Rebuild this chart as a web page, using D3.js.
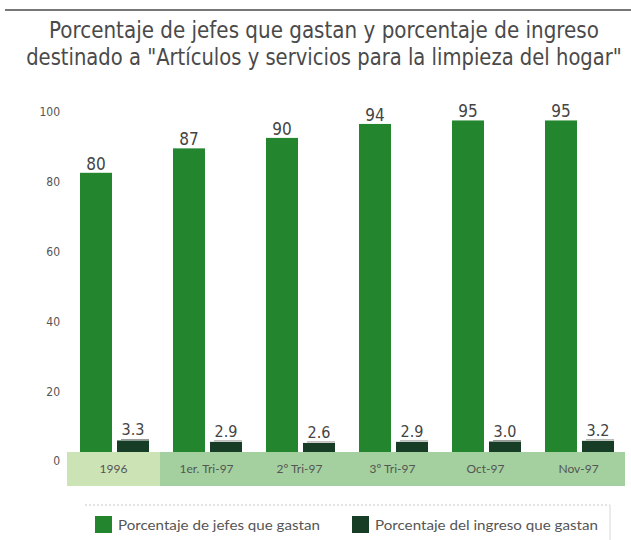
<!DOCTYPE html>
<html>
<head>
<meta charset="utf-8">
<script src="https://cdn.jsdelivr.net/npm/d3@7"></script>
<style>
  body { margin:0; background:#fff; }
  #chart-vis { width:631px; height:540px; }
</style>
</head>
<body>
<div id="chart-vis"></div>
<script>
var categories = ["1996", "1er. Tri-97", "2º Tri-97", "3º Tri-97", "Oct-97", "Nov-97"];
var jefes = [80, 87, 90, 94, 95, 95];
var ingreso = [3.3, 2.9, 2.6, 2.9, 3.0, 3.2];
var seriesNames = ["Porcentaje de jefes que gastan", "Porcentaje del ingreso que gastan"];
var yTicks = [0, 20, 40, 60, 80, 100];
var titleLines = ["Porcentaje de jefes que gastan y porcentaje de ingreso",
                  "destinado a \"Artículos y servicios para la limpieza del hogar\""];

BarVis = function(_parentElement) {
  this.settings = {
    parentElement: _parentElement,
    plot: {left:67, right:625, top:103, bottom:452},
    band: {height:34},
    colors: ["#23862f", "#183d27"],
    bandColors: ["#cce3b6", "#a3d09e"],
    text: "#4a4a4a"
  };
  this.initVis();
}

// squeeze a text horizontally so it spans `target` px, centred on cx
function squeeze(sel, cx, target) {
  sel.each(function(d, i) {
    var len = this.getComputedTextLength();
    var k = Math.min(1, target[i] / len);
    d3.select(this).attr("transform", "translate(" + cx + ",0) scale(" + k + ",1)");
  });
}

BarVis.prototype.initVis = function() {
  var vis = this;
  var s = vis.settings;

  vis.svg = d3.select(s.parentElement).append("svg")
      .attr("width", 631)
      .attr("height", 540);

  // top rule
  vis.svg.append("line").attr("x1", 5).attr("x2", 631).attr("y1", 10).attr("y2", 10)
      .attr("stroke", "#777").attr("stroke-width", 2);

  // title
  var titles = vis.svg.selectAll(".title").data(titleLines).enter()
      .append("text").attr("class", "title")
      .attr("x", 0).attr("y", function(d, i){ return 38 + i*27; })
      .attr("text-anchor", "middle")
      .style("font-family", "'Liberation Sans Narrow', 'DejaVu Sans Condensed', sans-serif")
      .style("font-size", "23px").style("fill", s.text)
      .text(function(d){ return d; });
  squeeze(titles, 324, [550, 596]);

  vis.x = d3.scaleBand().domain(categories).range([s.plot.left, s.plot.right]);
  vis.x1 = d3.scaleBand().domain([0, 1]).range([13, 82]).paddingInner(0.135);
  vis.y = d3.scaleLinear().domain([0, 100]).range([s.plot.bottom, s.plot.top]);

  vis.updateVis();
}

BarVis.prototype.updateVis = function() {
  var vis = this;
  var s = vis.settings;

  // y axis labels (printed slightly below the grid positions)
  var yAxis = d3.axisLeft(vis.y).tickValues(yTicks).tickSize(0).tickPadding(0);
  var gy = vis.svg.append("g").attr("transform", "translate(60,9)").call(yAxis);
  gy.select(".domain").remove();
  gy.selectAll("text").style("font-family", "'Liberation Sans Narrow', 'DejaVu Sans Condensed', sans-serif")
      .style("font-size", "12px").style("fill", "#555");

  // category band under the bars
  var gband = vis.svg.append("g");
  gband.selectAll("rect").data(categories).enter().append("rect")
      .attr("x", function(d){ return vis.x(d); })
      .attr("y", s.plot.bottom)
      .attr("width", vis.x.bandwidth())
      .attr("height", s.band.height)
      .style("fill", function(d, i){ return i === 0 ? s.bandColors[0] : s.bandColors[1]; });
  gband.selectAll("text").data(categories).enter().append("text")
      .attr("x", function(d){ return vis.x(d) + vis.x.bandwidth()/2; })
      .attr("y", s.plot.bottom + s.band.height/2 + 1)
      .attr("text-anchor", "middle").attr("dominant-baseline", "middle")
      .style("font-family", "Lato, 'DejaVu Sans', sans-serif").style("font-size", "12px")
      .style("fill", "#555")
      .text(function(d){ return d; });

  var rows = categories.map(function(c, i){ return {cat:c, values:[jefes[i], ingreso[i]]}; });

  var groups = vis.svg.selectAll(".group").data(rows).enter().append("g").attr("class", "group")
      .attr("transform", function(d){ return "translate(" + vis.x(d.cat) + ",0)"; });

  var cells = groups.selectAll(".cell")
      .data(function(d){ return d.values.map(function(v, k){ return {k:k, v:v}; }); })
      .enter().append("g").attr("class", "cell");

  cells.append("rect")
      .attr("x", function(d){ return vis.x1(d.k); })
      .attr("y", function(d){ return vis.y(d.v); })
      .attr("width", vis.x1.bandwidth())
      .attr("height", function(d){ return s.plot.bottom - vis.y(d.v); })
      .style("fill", function(d){ return s.colors[d.k]; });

  cells.append("text")
      .attr("x", function(d){ return vis.x1(d.k) + vis.x1.bandwidth()/2; })
      .attr("y", function(d){ return vis.y(d.v) - (d.k === 0 ? 3 : 5); })
      .attr("text-anchor", "middle")
      .style("font-family", "'Liberation Sans Narrow', 'DejaVu Sans Condensed', sans-serif")
      .style("font-size", function(d){ return d.k === 0 ? "17px" : "16px"; })
      .style("fill", "#444")
      .text(function(d){ return d.k === 0 ? d3.format("d")(d.v) : d3.format(".1f")(d.v); });

  // small-bar top edge
  cells.filter(function(d){ return d.k === 1; }).append("line")
      .attr("x1", function(d){ return vis.x1(d.k) + 4; })
      .attr("x2", function(d){ return vis.x1(d.k) + vis.x1.bandwidth(); })
      .attr("y1", function(d){ return vis.y(d.v) - 1; })
      .attr("y2", function(d){ return vis.y(d.v) - 1; })
      .attr("stroke", "#999").attr("stroke-width", 1);

  // legend
  var gleg = vis.svg.append("g");
  gleg.append("line").attr("x1", 85).attr("x2", 610).attr("y1", 505).attr("y2", 505)
      .attr("stroke", "#c8c8c8").attr("stroke-dasharray", "2,2");
  gleg.append("line").attr("x1", 610).attr("x2", 610).attr("y1", 505).attr("y2", 540)
      .attr("stroke", "#d8d8d8");
  var legX = [95, 352], legLen = [202, 223];
  gleg.selectAll(".legsw").data(seriesNames).enter().append("rect").attr("class", "legsw")
      .attr("x", function(d, i){ return legX[i]; }).attr("y", 516)
      .attr("width", 17).attr("height", 17)
      .style("fill", function(d, i){ return s.colors[i]; });
  gleg.selectAll(".legtx").data(seriesNames).enter().append("text").attr("class", "legtx")
      .attr("x", function(d, i){ return legX[i] + 23; }).attr("y", 530)
      .attr("textLength", function(d, i){ return legLen[i]; })
      .attr("lengthAdjust", "spacingAndGlyphs")
      .style("font-family", "Lato, 'DejaVu Sans', sans-serif").style("font-size", "14px")
      .style("fill", "#555")
      .text(function(d){ return d; });
}

new BarVis("#chart-vis");
</script>
</body>
</html>
